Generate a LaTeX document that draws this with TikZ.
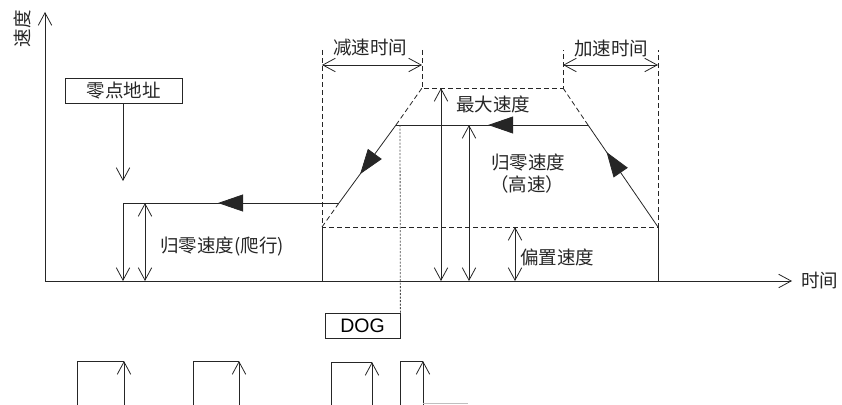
\documentclass[tikz,border=0pt]{standalone}
\usepackage{fontspec}
\setmainfont{Liberation Sans}
\newfontfamily\cjk{Noto Sans CJK SC}
\usetikzlibrary{arrows.meta,calc,decorations.markings}
\tikzset{
  ln/.style={line width=0.8pt,draw=black!85},
  dsh/.style={ln,dash pattern=on 5pt off 3pt},
  dtt/.style={ln,draw=black!70,dash pattern=on 2pt off 1.5pt},
  barb/.tip={Straight Barb[length=12.5pt,width=13.5pt,line width=0.8pt]},
  flow/.style={ln,postaction={decorate},decoration={markings,mark=at position #1 with {\arrow{Triangle[length=25pt,width=17pt]}}}},
  lbl/.style={font=\cjk\fontsize{18.5}{22}\selectfont,text=black!85,inner sep=0pt},
  boxnode/.style={ln,draw,minimum width=117pt,minimum height=25pt,inner sep=0pt}
}
\begin{document}
\begin{tikzpicture}[x=1pt,y=-1pt]
\useasboundingbox (0,0) rectangle (842,404);
% axes
\coordinate (O) at (45,281);
\coordinate (ytop) at (45,12);
\coordinate (xend) at (792,281);
\draw[ln,-barb] (O) -- (ytop);
\draw[ln,-barb] (O) -- (xend);
\node[lbl,rotate=90] (vlab) at (22,29) {速度};
\node[lbl,anchor=west] (tlab) at (801,281) {时间};
% trapezoid corners
\coordinate (bl) at (322,227);
\coordinate (tl) at (422,88);
\coordinate (tr) at (563,88);
\coordinate (br) at (658,227);
\coordinate (hs1) at (396,125);
\coordinate (hs2) at (588,125);
\coordinate (cr) at (339,203);
\coordinate (c0) at (123,203);
\coordinate (blb) at (322,281);
\coordinate (brb) at (658,281);
% dashed guides
\coordinate (d1) at (322,50);
\coordinate (d2) at (422,50);
\coordinate (d3) at (563,50);
\coordinate (d4) at (658,50);
\draw[dsh] (d1) -- (bl) -- (br) -- (d4);
\draw[dsh] (d2) -- (tl) -- (tr) -- (d3);
\draw[dsh] (bl) -- (cr);
\draw[dsh] (hs1) -- (tl);
\draw[dsh] (tr) -- (hs2);
\draw[ln] (bl) -- (blb);
\draw[ln] (br) -- (brb);
% time spans
\coordinate (a1) at (322,65);
\coordinate (a2) at (422,65);
\coordinate (a3) at (563,65);
\coordinate (a4) at (658,65);
\draw[ln,barb-barb] (a1) -- (a2);
\draw[ln,barb-barb] (a3) -- (a4);
\node[lbl] (dec) at (370,48) {减速时间};
\node[lbl] (acc) at (611,48) {加速时间};
% motion path
\draw[flow=0.735] (br) -- (hs2);
\draw[flow=0.52] (hs2) -- (hs1);
\draw[flow=0.63] (hs1) -- (cr);
\draw[flow=0.56] (cr) -- (c0);
\coordinate (c0b) at (123,281);
\draw[ln,-barb] (c0) -- (c0b);
% zero address box
\node[boxnode,lbl] (zero) at (123.5,90.5) {零点地址};
\coordinate (zt) at (123,181);
\draw[ln,-barb] (zero.south -| zt) -- (zt);
% speed arrows
\coordinate (cs1) at (145,203);
\coordinate (cs2) at (145,281);
\draw[ln,barb-barb] (cs1) -- (cs2);
\node[lbl] (creep) at (222,246) {归零速度(爬行)};
\coordinate (m1) at (441,88);
\coordinate (m2) at (441,281);
\draw[ln,barb-barb] (m1) -- (m2);
\node[lbl] (maxl) at (493,104) {最大速度};
\coordinate (h1) at (469,125);
\coordinate (h2) at (469,281);
\draw[ln,barb-barb] (h1) -- (h2);
\node[lbl] (hl1) at (528,162) {归零速度};
\node[lbl] (hl2) at (527,184) {（高速）};
\coordinate (b1) at (515,227);
\coordinate (b2) at (515,281);
\draw[ln,barb-barb] (b1) -- (b2);
\node[lbl] (bias) at (557,257) {偏置速度};
% DOG
\node[ln,draw,minimum width=75pt,minimum height=25pt,inner sep=0pt,font=\fontsize{19.5}{21}\selectfont] (dog) at (362.5,325.5) {DOG};
\coordinate (dtop) at (400,125);
\draw[dtt] (dtop) -- (dog.north east);
% pulses
\foreach \l/\r/\t [count=\i] in {77/124/361,193/239/361,331/372/362,400/423/361}{
  \draw[ln] (\l,406) |- (\r,\t);
  \draw[ln,-barb] (\r,406) -- (\r,\t);
}
\coordinate (g1) at (423,403);
\coordinate (g2) at (468,403);
\draw[line width=1pt,draw=black!25] (g1) -- (g2);
\end{tikzpicture}
\end{document}
